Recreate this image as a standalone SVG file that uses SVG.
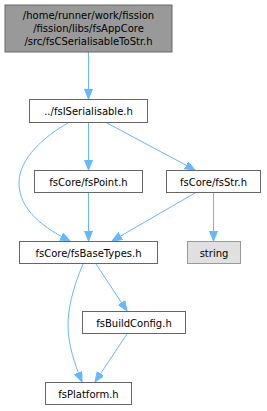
<svg xmlns="http://www.w3.org/2000/svg" width="267" height="411" viewBox="0 0 267 411">
<style>
.n rect{fill:#ffffff;stroke:#666666;stroke-width:1}
.t{font-family:"DejaVu Sans",sans-serif;font-size:10px;fill:#000000;text-anchor:middle}
.e{fill:none;stroke:#63b8ff;stroke-width:1;marker-end:url(#ah)}
</style>
<defs>
<marker id="ah" markerUnits="userSpaceOnUse" markerWidth="11" markerHeight="9" refX="10" refY="4" orient="auto">
<path d="M0,0 L10,4 L0,8 z" fill="#63b8ff" stroke="#63b8ff" stroke-width="1"/>
</marker>
</defs>
<rect width="267" height="411" fill="#ffffff"/>
<g id="connectors">
<path class="e" d="M88.5,52 L88.5,99"/>
<path class="e" d="M88.5,123 L88.5,170"/>
<path class="e" d="M107,123 L195,170"/>
<path class="e" d="M68,123 C45,136 19,158 19,183 C19,210 44,228 70,241"/>
<path class="e" d="M88.5,193 L88.5,241"/>
<path class="e" d="M195,193 L112,241"/>
<path class="e" d="M213.5,193 L213.5,241"/>
<path class="e" d="M83,264 C72,290 68,310 68,325 C68,345 75,365 82,382"/>
<path class="e" d="M96,264 L127,311"/>
<path class="e" d="M127,334 L95,382"/>
</g>
<g id="node1" class="n">
<rect x="5" y="5" width="167" height="47" style="fill:#999999;stroke:#666666"/>
<text class="t" x="88.5" y="19">/home/runner/work/fission</text>
<text class="t" x="88.5" y="32">/fission/libs/fsAppCore</text>
<text class="t" x="88.5" y="45">/src/fsCSerialisableToStr.h</text>
</g>
<g id="node2" class="n">
<rect x="29.5" y="99.5" width="118" height="23"/>
<text class="t" x="88.5" y="115">../fsISerialisable.h</text>
</g>
<g id="node3" class="n">
<rect x="34.5" y="170.5" width="108" height="22"/>
<text class="t" x="88.5" y="185.5">fsCore/fsPoint.h</text>
</g>
<g id="node4" class="n">
<rect x="166.5" y="170.5" width="94" height="22"/>
<text class="t" x="213.5" y="185.5">fsCore/fsStr.h</text>
</g>
<g id="node5" class="n">
<rect x="19.5" y="241.5" width="138" height="22"/>
<text class="t" x="88.5" y="256.5">fsCore/fsBaseTypes.h</text>
</g>
<g id="node6" class="n">
<rect x="187.5" y="241.5" width="53" height="22" style="fill:#e0e0e0;stroke:#999999"/>
<text class="t" x="214" y="256.5">string</text>
</g>
<g id="node7" class="n">
<rect x="82.5" y="311.5" width="103" height="22"/>
<text class="t" x="134" y="326.5">fsBuildConfig.h</text>
</g>
<g id="node8" class="n">
<rect x="45.5" y="382.5" width="86" height="22"/>
<text class="t" x="88.5" y="397.5">fsPlatform.h</text>
</g>
</svg>
